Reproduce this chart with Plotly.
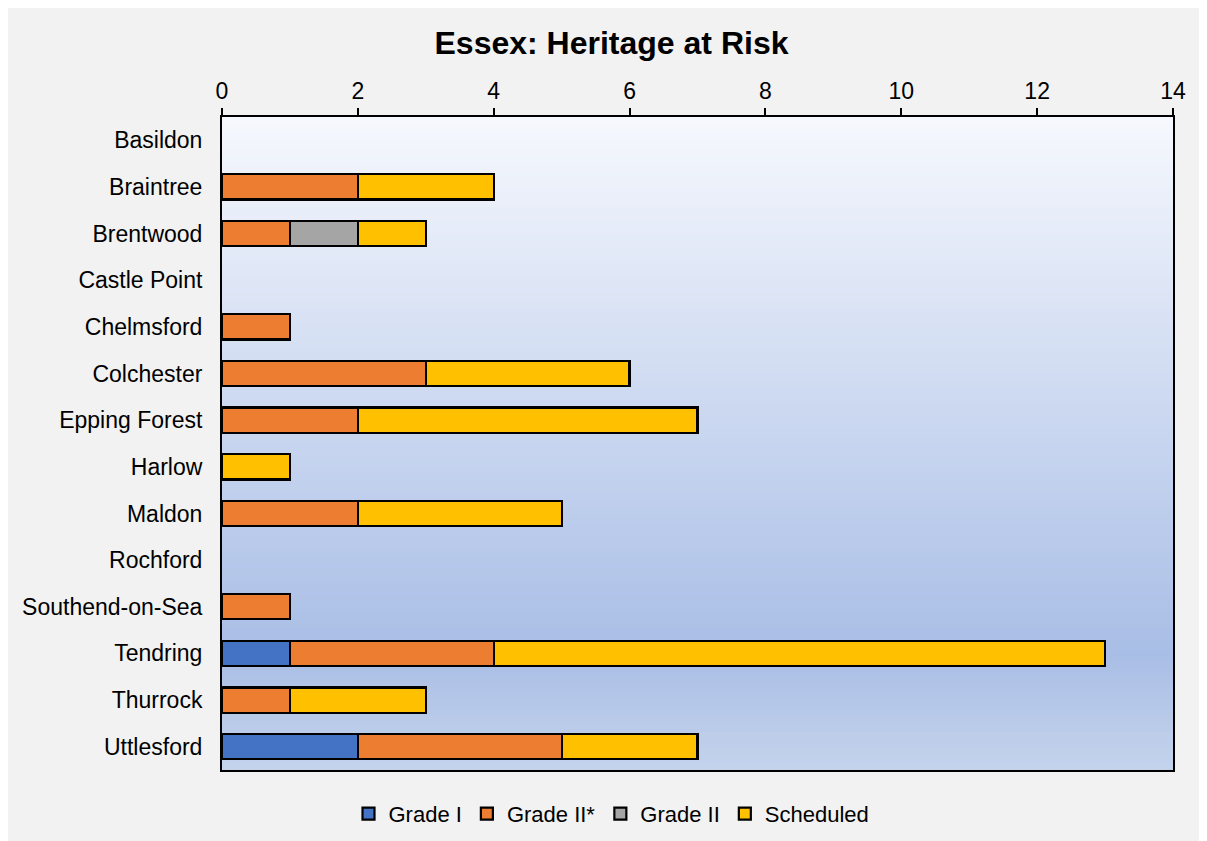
import plotly.graph_objects as go

districts = ["Basildon", "Braintree", "Brentwood", "Castle Point", "Chelmsford",
             "Colchester", "Epping Forest", "Harlow", "Maldon", "Rochford",
             "Southend-on-Sea", "Tendring", "Thurrock", "Uttlesford"]
grade_i = [0, 0, 0, 0, 0, 0, 0, 0, 0, 0, 0, 1, 0, 2]
grade_ii_star = [0, 2, 1, 0, 1, 3, 2, 0, 2, 0, 1, 3, 1, 3]
grade_ii = [0, 0, 1, 0, 0, 0, 0, 0, 0, 0, 0, 0, 0, 0]
scheduled = [0, 2, 1, 0, 0, 3, 5, 1, 3, 0, 0, 9, 2, 2]
x_ticks = [0, 2, 4, 6, 8, 10, 12, 14]

series = [
    ("Grade I", grade_i, "#4472c4"),
    ("Grade II*", grade_ii_star, "#ed7d31"),
    ("Grade II", grade_ii, "#a5a5a5"),
    ("Scheduled", scheduled, "#ffc000"),
]

fig = go.Figure()
for name, vals, col in series:
    # zero-length segments are not drawn (avoids stray outlines at x=0)
    shown = [v if v else None for v in vals]
    fig.add_trace(go.Bar(
        y=districts, x=shown, name=name, orientation="h",
        marker=dict(color=col, line=dict(color="#000000", width=2.2)),
    ))

# gradient background for the plot area
def lerp(c1, c2, t):
    return tuple(round(a + (b - a) * t) for a, b in zip(c1, c2))

stops = [(0.0, (246, 248, 253)), (0.82, (169, 190, 230)), (1.0, (197, 211, 236))]
n = 120
shapes = []
for i in range(n):
    t = (i + 0.5) / n  # 0 top -> 1 bottom
    for j in range(len(stops) - 1):
        if stops[j][0] <= t <= stops[j + 1][0]:
            tt = (t - stops[j][0]) / (stops[j + 1][0] - stops[j][0])
            c = lerp(stops[j][1], stops[j + 1][1], tt)
            break
    y1 = 1 - i / n
    y0 = 1 - (i + 1) / n - 0.002
    shapes.append(dict(type="rect", xref="x domain", yref="y domain",
                       x0=0, x1=1, y0=max(y0, 0), y1=y1, layer="below",
                       line=dict(width=0), fillcolor="rgb(%d,%d,%d)" % c))

W, H = 1207, 841
ml, mr, mt, mb = 214, 42, 109, 79
plot_w = W - ml - mr
legend_x = (W / 2 - ml) / plot_w  # centre of the whole figure, in paper units

fig.update_layout(
    width=W, height=H,
    paper_bgcolor="#f2f2f2", plot_bgcolor="rgba(0,0,0,0)",
    barmode="stack", bargap=0.46,
    margin=dict(l=ml, r=mr, t=mt, b=mb),
    font=dict(family="Liberation Sans, Arial, sans-serif", size=23, color="#000000"),
    title=dict(text="<b>Essex: Heritage at Risk</b>", x=0.5, xanchor="center",
               xref="container",
               y=1 - 35 / H, yanchor="middle", yref="container",
               font=dict(size=32, color="#000000")),
    shapes=shapes,
    legend=dict(orientation="h", x=legend_x, xref="paper", xanchor="center",
                y=-0.067, yanchor="middle", font=dict(size=22),
                bgcolor="rgba(0,0,0,0)", traceorder="normal"),
    xaxis=dict(side="top", range=[0, 14], tickvals=x_ticks, ticktext=[str(v) for v in x_ticks],
               showgrid=False, zeroline=False, showline=True, linecolor="#000000",
               linewidth=2, mirror=True, ticks="outside", ticklen=7, tickwidth=1.5,
               tickcolor="#000000"),
    yaxis=dict(autorange="reversed", showgrid=False, zeroline=False, showline=True,
               linecolor="#000000", linewidth=2, mirror=True, ticks="", ticklabelstandoff=13),
)

fig.write_html("out.html")
